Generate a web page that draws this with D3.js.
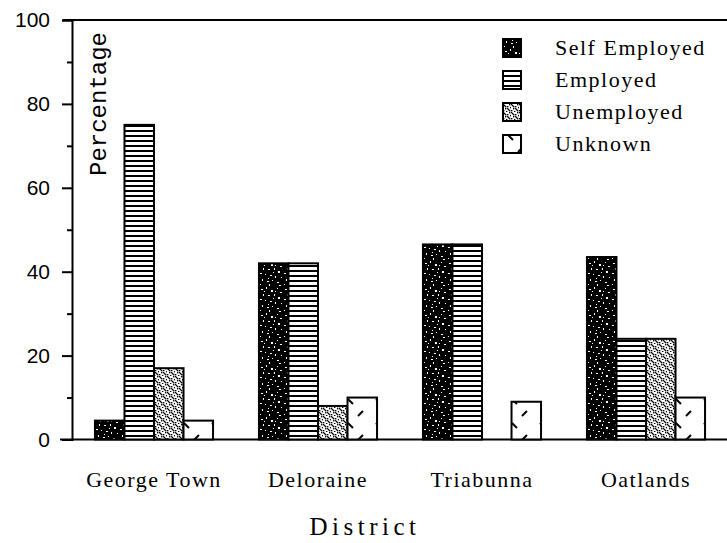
<!DOCTYPE html>
<html>
<head>
<meta charset="utf-8">
<script src="https://cdn.jsdelivr.net/npm/d3@7"></script>
<style>
  html, body { margin: 0; padding: 0; background: #fff; }
  svg { display: block; }
</style>
</head>
<body>
<script>
const categories = ["George Town", "Deloraine", "Triabunna", "Oatlands"];
const seriesNames = ["Self Employed", "Employed", "Unemployed", "Unknown"];
const selfEmployed = [4.5, 42, 46.5, 43.5];
const employed = [75, 42, 46.5, 24];
const unemployed = [17, 8, 0, 24];
const unknown = [4.5, 10, 9, 10];
const majorTicks = [0, 20, 40, 60, 80, 100];
const minorTicks = [10, 30, 50, 70, 90];

const seriesValues = [selfEmployed, employed, unemployed, unknown];
const W = 727, H = 543;

const svg = d3.select("body").append("svg").attr("width", W).attr("height", H);
const defs = svg.append("defs");

// Pattern: self employed (black with white speckles)
const pSelf = defs.append("pattern").attr("id", "pSelf").attr("patternUnits", "userSpaceOnUse")
  .attr("width", 24).attr("height", 26);
pSelf.append("rect").attr("width", 24).attr("height", 26).attr("fill", "#000");
const specks = [[2,3,2,1],[7,1,1,2],[12,4,2,2],[18,2,1,1],[21,6,2,1],[4,8,1,2],[9,9,2,1],[15,8,1,2],
  [19,11,2,2],[1,13,2,1],[6,14,1,1],[11,15,2,1],[16,16,1,2],[22,17,1,1],[3,19,1,2],[8,21,2,1],
  [13,20,1,1],[18,22,2,1],[1,24,1,1],[10,24,1,2],[20,25,2,1],[14,12,1,1],[5,5,1,1],[16,5,1,1],[9,18,1,1]];
specks.forEach(s => pSelf.append("rect").attr("x", s[0]).attr("y", s[1]).attr("width", s[2]).attr("height", s[3]).attr("fill", "#fff"));

// Pattern: employed (horizontal lines)
const pEmp = defs.append("pattern").attr("id", "pEmp").attr("patternUnits", "userSpaceOnUse")
  .attr("width", 10).attr("height", 5);
pEmp.append("rect").attr("width", 10).attr("height", 5).attr("fill", "#fff");
pEmp.append("rect").attr("y", 0).attr("width", 10).attr("height", 2).attr("fill", "#000");

// Pattern: unemployed (stipple)
const pUnemp = defs.append("pattern").attr("id", "pUnemp").attr("patternUnits", "userSpaceOnUse")
  .attr("width", 8).attr("height", 8);
pUnemp.append("rect").attr("width", 8).attr("height", 8).attr("fill", "#fff");
[[0,0],[2,2],[4,4],[6,6],[6,0],[4,2],[2,4],[0,6],[3,7],[7,3],[1,1],[5,5]].forEach(d =>
  pUnemp.append("rect").attr("x", d[0]).attr("y", d[1]).attr("width", 1.4).attr("height", 1.4).attr("fill", "#000"));

// Pattern: unknown (sparse dashes)
const pUnk = defs.append("pattern").attr("id", "pUnk").attr("patternUnits", "userSpaceOnUse")
  .attr("width", 28).attr("height", 24);
pUnk.append("rect").attr("width", 28).attr("height", 24).attr("fill", "#fff");
pUnk.append("line").attr("x1", 15).attr("y1", 8).attr("x2", 20).attr("y2", 3).attr("stroke", "#000").attr("stroke-width", 2);
pUnk.append("line").attr("x1", 5).attr("y1", 15).attr("x2", 10).attr("y2", 20).attr("stroke", "#000").attr("stroke-width", 2);

const fills = ["url(#pSelf)", "url(#pEmp)", "url(#pUnemp)", "url(#pUnk)"];

const x0 = d3.scaleBand().domain(categories).range([72, 728]).paddingInner(0.28).paddingOuter(0.14);
const x1 = d3.scaleBand().domain(seriesNames).range([0, x0.bandwidth()]);
const y = d3.scaleLinear().domain([0, 100]).range([439.5, 20]);

// Frame lines
svg.append("line").attr("x1", 63).attr("x2", 727).attr("y1", y(100)).attr("y2", y(100)).attr("stroke", "#000").attr("stroke-width", 2);
svg.append("line").attr("x1", 60).attr("x2", 727).attr("y1", y(0)).attr("y2", y(0)).attr("stroke", "#000").attr("stroke-width", 2);

// Y axis
const yAxis = d3.axisLeft(y).tickValues(majorTicks).tickSize(10).tickPadding(12).tickFormat(d3.format("d"));
const gy = svg.append("g").attr("transform", "translate(72,0)").call(yAxis);
gy.select(".domain").attr("stroke-width", 2);
gy.selectAll(".tick line").attr("stroke-width", 2);
gy.selectAll(".tick text").attr("font-family", "Liberation Sans, Arial, sans-serif").attr("font-size", 21).attr("fill", "#000");
const gyMinor = svg.append("g").attr("transform", "translate(72,0)")
  .call(d3.axisLeft(y).tickValues(minorTicks).tickSize(5).tickFormat(""));
gyMinor.select(".domain").remove();
gyMinor.selectAll(".tick line").attr("stroke-width", 2);

// Bars
const groups = svg.append("g").selectAll("g").data(categories).join("g")
  .attr("transform", d => `translate(${x0(d)},0)`);
groups.selectAll("rect").data((c, i) => seriesNames.map((s, j) => ({ s, j, v: seriesValues[j][i] })).filter(d => d.v > 0))
  .join("rect")
  .attr("x", d => x1(d.s))
  .attr("y", d => y(d.v))
  .attr("width", x1.bandwidth())
  .attr("height", d => y(0) - y(d.v))
  .attr("fill", d => fills[d.j])
  .attr("stroke", "#000").attr("stroke-width", 2);

// Category labels
svg.append("g").selectAll("text").data(categories).join("text")
  .attr("x", d => x0(d) + x0.bandwidth() / 2)
  .attr("y", 487)
  .attr("text-anchor", "middle")
  .attr("font-family", "Liberation Serif, Times New Roman, serif")
  .attr("font-size", 22).attr("letter-spacing", 1.5)
  .text(d => d);

// X title
svg.append("text").attr("x", 365).attr("y", 535).attr("text-anchor", "middle")
  .attr("font-family", "Liberation Serif, Times New Roman, serif")
  .attr("font-size", 25).attr("letter-spacing", 4.5).text("District");

// Y title
svg.append("text").attr("transform", "translate(106,104) rotate(-90)").attr("text-anchor", "middle")
  .attr("font-family", "Liberation Mono, Courier New, monospace")
  .attr("font-size", 24).text("Percentage");

// Legend
const leg = svg.append("g").selectAll("g").data(seriesNames).join("g")
  .attr("transform", (d, i) => `translate(503,${48 + i * 32})`);
leg.append("rect").attr("x", 0).attr("y", -9).attr("width", 18).attr("height", 18)
  .attr("fill", (d, i) => fills[i]).attr("stroke", "#000").attr("stroke-width", 2);
leg.append("text").attr("x", 52).attr("y", 7)
  .attr("font-family", "Liberation Serif, Times New Roman, serif")
  .attr("font-size", 22).attr("letter-spacing", 1.5).text(d => d);
</script>
</body>
</html>
